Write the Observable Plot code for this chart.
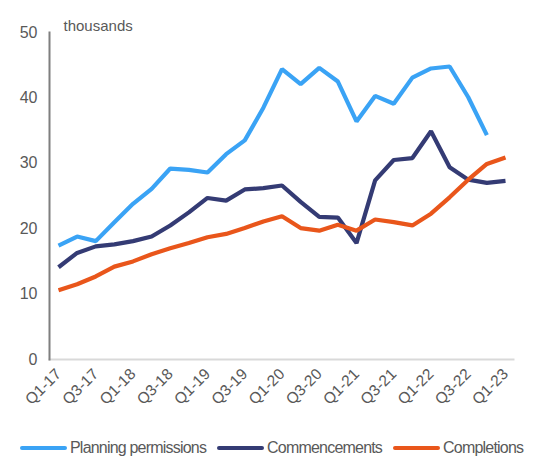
<!DOCTYPE html>
<html>
<head>
<meta charset="utf-8">
<script src="https://cdn.jsdelivr.net/npm/d3@7"></script>
<script src="https://cdn.jsdelivr.net/npm/@observablehq/plot@0.6"></script>
<style>
  body { margin: 0; background: #fff; font-family: "Liberation Sans", Arial, sans-serif; overflow: hidden; }
  #chart svg { display: block; }
  .legend { display: flex; align-items: center; height: 22px; margin-top: 22px; padding-left: 20px; color: #595959; font-size: 16px; letter-spacing: -0.8px; white-space: nowrap; }
  .legend .item { display: flex; align-items: center; margin-right: 11px; flex-shrink: 0; }
  .legend .sw { width: 47px; height: 4px; border-radius: 2px; margin-right: 3px; flex-shrink: 0; }
</style>
</head>
<body>
<div id="chart"></div>
<div class="legend" id="legend"></div>
<script>
const quarters = ["Q1-17","Q2-17","Q3-17","Q4-17","Q1-18","Q2-18","Q3-18","Q4-18","Q1-19","Q2-19","Q3-19","Q4-19","Q1-20","Q2-20","Q3-20","Q4-20","Q1-21","Q2-21","Q3-21","Q4-21","Q1-22","Q2-22","Q3-22","Q4-22","Q1-23"];
const planningPermissions = [17.4,18.8,18.1,21.0,23.8,26.1,29.2,29.0,28.6,31.4,33.5,38.5,44.4,42.1,44.6,42.5,36.4,40.3,39.1,43.1,44.5,44.8,40.1,34.3,null];
const commencements = [14.1,16.3,17.3,17.6,18.1,18.8,20.5,22.5,24.7,24.3,26.0,26.2,26.6,24.1,21.8,21.7,17.8,27.4,30.5,30.8,34.9,29.4,27.5,27.0,27.3];
const completions = [10.6,11.5,12.7,14.2,15.0,16.1,17.0,17.8,18.7,19.2,20.1,21.1,21.9,20.1,19.7,20.6,19.7,21.4,21.0,20.5,22.3,24.8,27.5,29.9,30.9];
const seriesNames = ["Planning permissions","Commencements","Completions"];
const seriesColors = ["#3AA3F5","#343B74","#E9561B"];
const yTicks = [0,10,20,30,40,50];

const seriesValues = [planningPermissions, commencements, completions];
const data = [];
seriesNames.forEach((name, s) => {
  seriesValues[s].forEach((v, i) => {
    if (v != null) data.push({series: name, i, q: quarters[i], value: v});
  });
});

const chart = Plot.plot({
  width: 541,
  height: 415,
  marginLeft: 49,
  marginRight: 28,
  marginTop: 32,
  marginBottom: 56,
  style: {fontFamily: "Liberation Sans, Arial, sans-serif", color: "#595959", background: "#fff"},
  x: {type: "linear", domain: [0, 24], insetLeft: 9, insetRight: 8},
  y: {domain: [0, 50]},
  color: {domain: seriesNames, range: seriesColors},
  marks: [
    Plot.frame({anchor: "bottom", stroke: "#d9d9d9", strokeWidth: 2, strokeOpacity: 1}),
    Plot.frame({anchor: "left", stroke: "#7f7f7f", strokeWidth: 2, strokeOpacity: 1}),
    Plot.axisY({ticks: yTicks, tickSize: 0, tickPadding: 12, label: null, fontSize: 16}),
    Plot.axisX({
      ticks: quarters.map((q, i) => i).filter(i => i % 2 === 0),
      tickFormat: i => quarters[i],
      tickSize: 0, tickPadding: 12, tickRotate: -45, label: null, fontSize: 15.5
    }),
    Plot.line(data, {x: "i", y: "value", z: "series", stroke: "series", strokeWidth: 4.2, strokeLinejoin: "miter", strokeLinecap: "butt"}),
    Plot.text(["thousands"], {frameAnchor: "top-left", dx: 14, dy: -2, text: d => d, textAnchor: "start", lineAnchor: "bottom", fontSize: 15, fill: "#595959"})
  ]
});
document.getElementById("chart").appendChild(chart);

const legend = document.getElementById("legend");
seriesNames.forEach((name, s) => {
  const item = document.createElement("div");
  item.className = "item";
  const sw = document.createElement("div");
  sw.className = "sw";
  sw.style.background = seriesColors[s];
  const label = document.createElement("span");
  label.textContent = name;
  item.appendChild(sw);
  item.appendChild(label);
  legend.appendChild(item);
});
</script>
</body>
</html>
